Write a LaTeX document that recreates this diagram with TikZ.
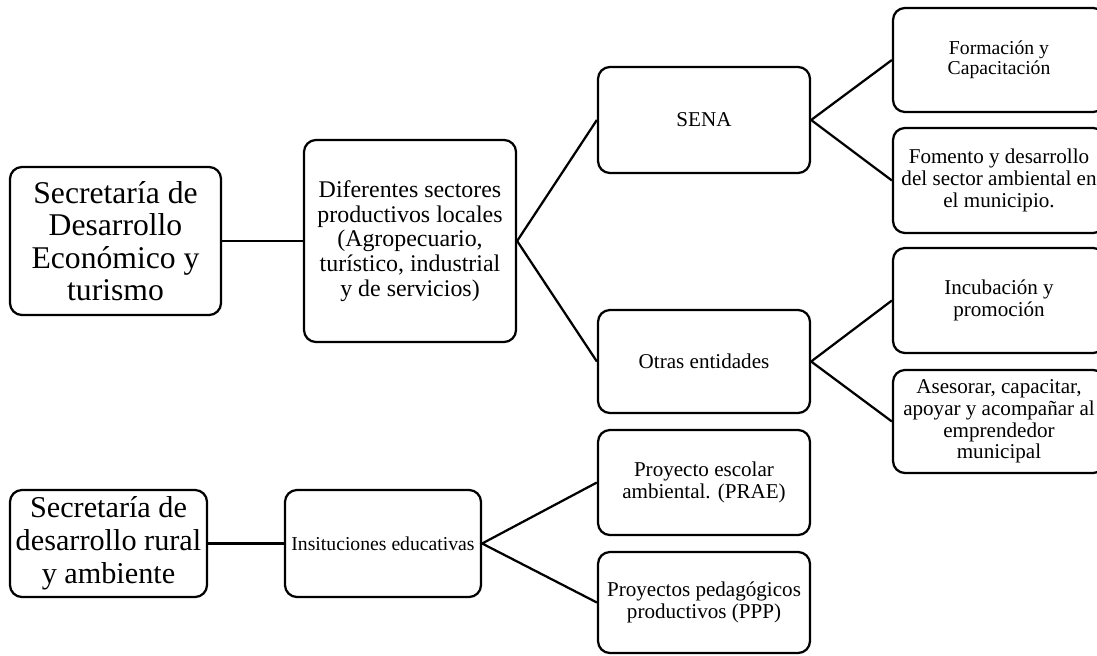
\documentclass[tikz,border=0pt]{standalone}
\usepackage{fontspec}
\setmainfont{Liberation Serif}
\usepackage{tikz}

\tikzset{
  caja/.style={draw, line width=1.6pt, rounded corners=8.5pt, align=center,
    inner sep=1pt, minimum width=212*0.025cm, font=\fontsize{15}{15.5}\selectfont},
  grande/.style={font=\fontsize{22.5}{23}\selectfont},
  media/.style={font=\fontsize{17}{17.6}\selectfont},
  enlace/.style={line width=1.6pt}
}

\begin{document}
\begin{tikzpicture}[x=0.025cm, y=-0.025cm]

                \clip (0,0) rectangle (1097,656);

                % Secretarias
                \node[caja, grande, minimum width=211*0.025cm, minimum height=148*0.025cm] (eco) at (115.5,241) {Secretaría de\\Desarrollo\\Económico y\\turismo};
                \node[caja, font=\fontsize{21.5}{23.5}\selectfont, minimum width=197*0.025cm, minimum height=107*0.025cm] (rural) at (108.5,543.5) {Secretaría de\\desarrollo rural\\y ambiente};

                % Segundo nivel
                \node[caja, media, minimum height=202*0.025cm] (sectores) at (410,241) {Diferentes sectores\\productivos locales\\(Agropecuario,\\turístico, industrial\\y de servicios)};
                \node[caja, font=\fontsize{14}{15}\selectfont, minimum width=196*0.025cm, minimum height=107*0.025cm] (insti) at (383,543.5) {Insituciones educativas};

                % Tercer nivel
                \node[caja, minimum height=106*0.025cm] (sena) at (704,120) {SENA};
                \node[caja, minimum height=103*0.025cm] (otras) at (704,361.5) {Otras entidades};
                \node[caja, minimum height=105*0.025cm] (prae) at (704,482.5) {Proyecto escolar\\ambiental. (PRAE)};
                \node[caja, minimum height=101*0.025cm] (ppp) at (704,602.5) {Proyectos pedagógicos\\productivos (PPP)};

                % Cuarto nivel
                \node[caja, font=\fontsize{14}{14.5}\selectfont, minimum height=104*0.025cm] (forma) at (999,60) {Formación y\\Capacitación};
                \node[caja, minimum height=105*0.025cm] (fomento) at (999,180.5) {Fomento y desarrollo\\del sector ambiental en\\el municipio.};
                \node[caja, minimum height=105*0.025cm] (incuba) at (999,300.5) {Incubación y\\promoción};
                \node[caja, minimum height=103*0.025cm] (asesora) at (999,421.5) {Asesorar, capacitar,\\apoyar y acompañar al\\emprendedor\\municipal};

                % Conexiones
                \draw[enlace] (eco.east) -- (sectores.west);
                \draw[enlace] (sena.west) -- (sectores.east) -- (otras.west);
                \draw[enlace] (forma.west) -- (sena.east) -- (fomento.west);
                \draw[enlace] (incuba.west) -- (otras.east) -- (asesora.west);
                \draw[enlace] (rural.east) -- (insti.west);
                \draw[enlace] (prae.west) -- (insti.east) -- (ppp.west);

\end{tikzpicture}
\end{document}
